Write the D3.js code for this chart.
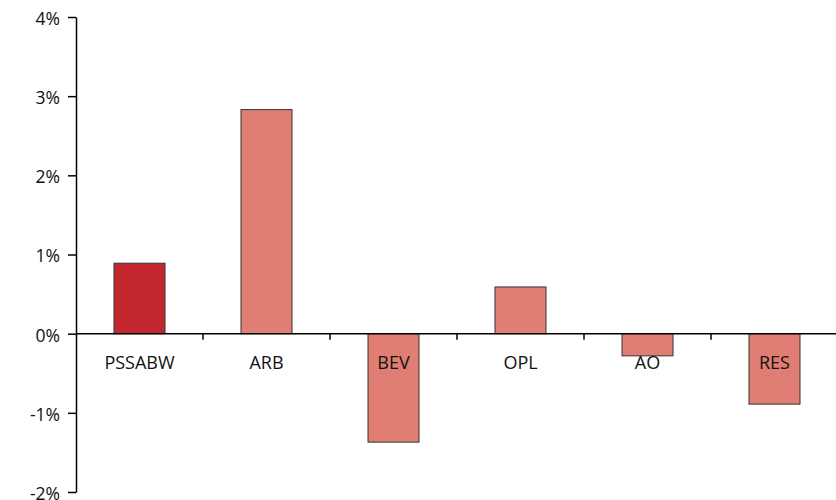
<!DOCTYPE html>
<html><head><meta charset="utf-8">
<script src="https://cdn.jsdelivr.net/npm/d3@7"></script>
<style>body{margin:0;background:#fff}svg{display:block}text{font-family:"Open Sans","Noto Sans",sans-serif;fill:#111}</style>
</head><body>
<svg id="c" width="836" height="500"></svg>
<script>
const categories = ["PSSABW","ARB","BEV","OPL","AO","RES"];
const values = [0.89, 2.83, -1.37, 0.59, -0.28, -0.89];
const barColors = ["#C1272D","#E07E74","#E07E74","#E07E74","#E07E74","#E07E74"];
const yTicks = [-2,-1,0,1,2,3,4];

const svg = d3.select("#c");
const mLeft = 76, mRight = 838, mTop = 17, mBottom = 492;
const xb = d3.scaleBand().domain(categories).range([mLeft, mRight]);
const y = d3.scaleLinear().domain([-2,4]).range([mBottom, mTop]);

// bars
svg.append("g").selectAll("rect").data(categories).join("rect")
  .attr("x", d => xb(d) + (xb.bandwidth()-51)/2)
  .attr("width", 51)
  .attr("y", (d,i) => y(Math.max(0, values[i])))
  .attr("height", (d,i) => Math.abs(y(values[i]) - y(0)))
  .attr("fill", (d,i) => barColors[i])
  .attr("stroke", "#333").attr("stroke-width", 1);

// y axis
const ya = svg.append("g").attr("transform", `translate(${mLeft},0)`)
  .call(d3.axisLeft(y).tickValues(yTicks).tickFormat(d => d + "%").tickSize(8).tickSizeOuter(0));
ya.attr("font-size", null).attr("font-family", null);
ya.select(".domain").attr("stroke", "#000").attr("stroke-width", 1.5);
ya.selectAll(".tick line").attr("stroke", "#000").attr("stroke-width", 1.5);
ya.selectAll("text").style("font-size", "17.5px").attr("x", -16).attr("dy", "0.42em").attr("fill", "#111");

// x axis at zero
const xa = svg.append("g").attr("transform", `translate(0,${y(0)})`);
xa.append("line").attr("x1", mLeft).attr("x2", 836).attr("y1", 0).attr("y2", 0).attr("stroke", "#000").attr("stroke-width", 1.5);
xa.selectAll("line.t").data(categories.slice(1)).join("line").attr("class","t")
  .attr("x1", d => xb(d)).attr("x2", d => xb(d)).attr("y1", 0).attr("y2", 6)
  .attr("stroke", "#000").attr("stroke-width", 1.5);
xa.selectAll("text").data(categories).join("text")
  .attr("x", d => xb(d) + xb.bandwidth()/2).attr("y", 35)
  .attr("text-anchor", "middle").style("font-size", "18px")
  .text(d => d);
</script>
</body></html>
